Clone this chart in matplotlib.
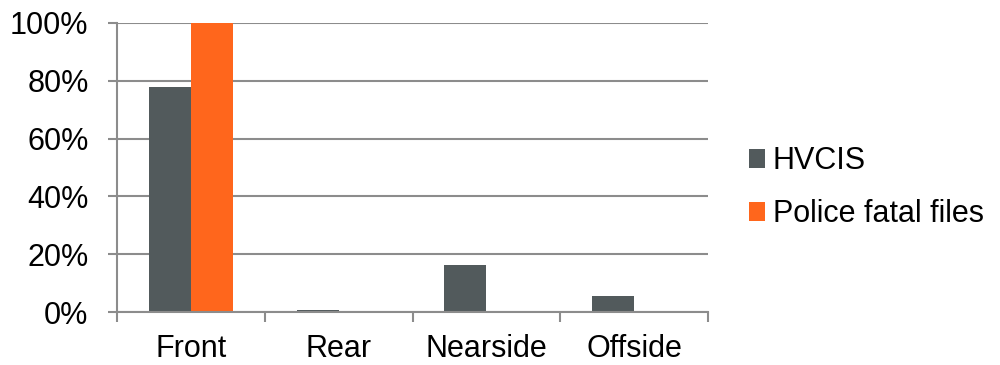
import numpy as np
import matplotlib
matplotlib.use('Agg')
import matplotlib.pyplot as plt
from matplotlib.ticker import PercentFormatter

plt.rcParams['font.family'] = ['Liberation Sans', 'DejaVu Sans']

# data
categories = ['Front', 'Rear', 'Nearside', 'Offside']
hvcis = [78.0, 0.8, 16.2, 5.7]
police = [100.0, 0.0, 0.0, 0.0]
series_names = ['HVCIS', 'Police fatal files']
yticks = [0, 20, 40, 60, 80, 100]

GREY = '#525A5C'
ORANGE = '#FF661C'
AXIS = '#8C8C8C'
FS = 22

fig = plt.figure(figsize=(10, 3.65), dpi=100)
ax = fig.add_axes([0.117, 0.145, 0.591, 0.792])

x = np.arange(len(categories))
w = 0.284
ax.bar(x - w / 2, hvcis, w, color=GREY, label=series_names[0], zorder=3)
ax.bar(x + w / 2, police, w, color=ORANGE, label=series_names[1], zorder=3)

ax.set_xlim(-0.5, len(categories) - 0.5)
ax.set_ylim(0, 100)
ax.set_yticks(yticks)
ax.yaxis.set_major_formatter(PercentFormatter(decimals=0))
ax.set_xticks(x)
ax.set_xticklabels(categories)
# category boundary ticks like Excel
ax.set_xticks(np.arange(-0.5, len(categories)), minor=True)
ax.tick_params(axis='x', which='major', length=0, pad=16, labelsize=FS)
ax.tick_params(axis='x', which='minor', length=7, width=1.5, color=AXIS)
ax.tick_params(axis='y', length=6.5, width=1.5, color=AXIS, labelsize=FS, pad=14)

ax.grid(axis='y', color=AXIS, linewidth=1.5, zorder=0)
for side in ['top', 'right']:
    ax.spines[side].set_visible(False)
for side in ['left', 'bottom']:
    ax.spines[side].set_color(AXIS)
    ax.spines[side].set_linewidth(1.5)
ax.spines['bottom'].set_zorder(4)

leg = ax.legend(loc='center left', bbox_to_anchor=(1.022, 0.43), frameon=False,
                fontsize=FS, handlelength=0.55, handleheight=0.55,
                handletextpad=0.25, labelspacing=0.75)

fig.savefig('out.png', dpi=100)
